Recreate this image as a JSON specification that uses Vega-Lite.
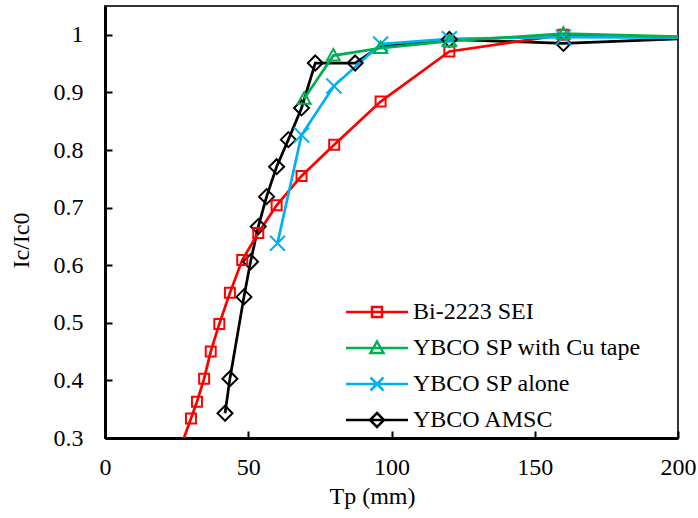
{
  "$schema": "https://vega.github.io/schema/vega-lite/v6.json",
  "width": 573,
  "height": 432,
  "autosize": {"type": "none"},
  "padding": {"left": 105, "top": 6, "right": 20, "bottom": 80},
  "background": "white",
  "config": {
    "font": "Liberation Serif",
    "view": {"stroke": "#333333", "strokeWidth": 2},
    "axis": {
      "grid": false,
      "labelFont": "Liberation Serif",
      "labelFontSize": 24,
      "labelColor": "black",
      "labelFlush": false,
      "labelOverlap": false,
      "titleFont": "Liberation Serif",
      "titleFontSize": 24,
      "titleFontWeight": "normal",
      "titleColor": "black",
      "domainColor": "black",
      "domainWidth": 3,
      "tickColor": "black",
      "tickWidth": 2,
      "tickSize": -7
    }
  },
  "data": {
    "values": [
      {"series": "YBCO AMSC", "Tp": 41.9, "ratio": 0.343, "marker": true},
      {"series": "YBCO AMSC", "Tp": 43.6, "ratio": 0.403, "marker": true},
      {"series": "YBCO AMSC", "Tp": 48.5, "ratio": 0.545, "marker": true},
      {"series": "YBCO AMSC", "Tp": 50.8, "ratio": 0.606, "marker": true},
      {"series": "YBCO AMSC", "Tp": 53.5, "ratio": 0.667, "marker": true},
      {"series": "YBCO AMSC", "Tp": 56.4, "ratio": 0.719, "marker": true},
      {"series": "YBCO AMSC", "Tp": 59.9, "ratio": 0.771, "marker": true},
      {"series": "YBCO AMSC", "Tp": 64.0, "ratio": 0.818, "marker": true},
      {"series": "YBCO AMSC", "Tp": 68.6, "ratio": 0.873, "marker": true},
      {"series": "YBCO AMSC", "Tp": 73.4, "ratio": 0.951, "marker": true},
      {"series": "YBCO AMSC", "Tp": 87.3, "ratio": 0.951, "marker": true},
      {"series": "YBCO AMSC", "Tp": 95.8, "ratio": 0.979, "marker": false},
      {"series": "YBCO AMSC", "Tp": 120.2, "ratio": 0.992, "marker": true},
      {"series": "YBCO AMSC", "Tp": 160, "ratio": 0.985, "marker": true},
      {"series": "YBCO AMSC", "Tp": 200, "ratio": 0.993, "marker": false},
      {"series": "Bi-2223 SEI", "Tp": 25.4, "ratio": 0.27, "marker": false},
      {"series": "Bi-2223 SEI", "Tp": 30.0, "ratio": 0.334, "marker": true},
      {"series": "Bi-2223 SEI", "Tp": 32.1, "ratio": 0.363, "marker": true},
      {"series": "Bi-2223 SEI", "Tp": 34.6, "ratio": 0.403, "marker": true},
      {"series": "Bi-2223 SEI", "Tp": 36.9, "ratio": 0.45, "marker": true},
      {"series": "Bi-2223 SEI", "Tp": 39.9, "ratio": 0.498, "marker": true},
      {"series": "Bi-2223 SEI", "Tp": 43.6, "ratio": 0.552, "marker": true},
      {"series": "Bi-2223 SEI", "Tp": 47.9, "ratio": 0.609, "marker": true},
      {"series": "Bi-2223 SEI", "Tp": 53.5, "ratio": 0.656, "marker": true},
      {"series": "Bi-2223 SEI", "Tp": 59.9, "ratio": 0.704, "marker": true},
      {"series": "Bi-2223 SEI", "Tp": 68.6, "ratio": 0.755, "marker": true},
      {"series": "Bi-2223 SEI", "Tp": 80.0, "ratio": 0.809, "marker": true},
      {"series": "Bi-2223 SEI", "Tp": 96.2, "ratio": 0.884, "marker": true},
      {"series": "Bi-2223 SEI", "Tp": 120.2, "ratio": 0.971, "marker": true},
      {"series": "Bi-2223 SEI", "Tp": 160, "ratio": 1.0, "marker": true},
      {"series": "Bi-2223 SEI", "Tp": 200, "ratio": 0.996, "marker": false},
      {"series": "YBCO SP alone", "Tp": 60.2, "ratio": 0.638, "marker": true},
      {"series": "YBCO SP alone", "Tp": 68.6, "ratio": 0.826, "marker": true},
      {"series": "YBCO SP alone", "Tp": 79.9, "ratio": 0.911, "marker": true},
      {"series": "YBCO SP alone", "Tp": 96.2, "ratio": 0.984, "marker": true},
      {"series": "YBCO SP alone", "Tp": 120.2, "ratio": 0.993, "marker": true},
      {"series": "YBCO SP alone", "Tp": 160, "ratio": 0.996, "marker": true},
      {"series": "YBCO SP alone", "Tp": 200, "ratio": 0.995, "marker": false},
      {"series": "YBCO SP with Cu tape", "Tp": 69.5, "ratio": 0.889, "marker": true},
      {"series": "YBCO SP with Cu tape", "Tp": 79.7, "ratio": 0.964, "marker": true},
      {"series": "YBCO SP with Cu tape", "Tp": 96.2, "ratio": 0.977, "marker": true},
      {"series": "YBCO SP with Cu tape", "Tp": 120.2, "ratio": 0.989, "marker": true},
      {"series": "YBCO SP with Cu tape", "Tp": 160, "ratio": 1.002, "marker": true},
      {"series": "YBCO SP with Cu tape", "Tp": 200, "ratio": 0.997, "marker": false}
    ]
  },
  "encoding": {
    "x": {
      "field": "Tp", "type": "quantitative",
      "scale": {"domain": [0, 200], "nice": false, "zero": false},
      "axis": {"values": [0, 50, 100, 150, 200], "title": "Tp (mm)", "labelPadding": 24, "titleX": 267, "titleY": 65, "titleBaseline": "alphabetic", "titleAnchor": null}
    },
    "y": {
      "field": "ratio", "type": "quantitative",
      "scale": {"domain": [0.3, 1.05], "nice": false, "zero": false},
      "axis": {"values": [0.3, 0.4, 0.5, 0.6, 0.7, 0.8, 0.9, 1.0], "format": "~g", "title": "Ic/Ic0", "labelPadding": 29, "titleX": -72, "titleY": 234}
    }
  },
  "resolve": {"scale": {"shape": "independent", "color": "independent"}, "legend": {"shape": "independent", "color": "independent"}},
  "layer": [
    {
      "mark": {"type": "line", "strokeWidth": 2.75, "clip": true},
      "encoding": {
        "order": {"field": "Tp", "type": "quantitative"},
        "color": {
          "field": "series", "type": "nominal",
          "scale": {
            "domain": ["Bi-2223 SEI", "YBCO SP with Cu tape", "YBCO SP alone", "YBCO AMSC"],
            "range": ["#FF0000", "#00B050", "#00B0F0", "#000000"]
          },
          "legend": null
        }
      }
    },
    {
      "transform": [{"filter": "datum.marker"}],
      "mark": {"type": "point", "filled": false, "size": 100, "strokeWidth": 2, "opacity": 1, "clip": true},
      "encoding": {
        "color": {
          "field": "series", "type": "nominal",
          "scale": {
            "domain": ["Bi-2223 SEI", "YBCO SP with Cu tape", "YBCO SP alone", "YBCO AMSC"],
            "range": ["#FF0000", "#00B050", "#00B0F0", "#000000"]
          },
          "legend": null
        },
        "shape": {
          "field": "series", "type": "nominal",
          "scale": {
            "domain": ["Bi-2223 SEI", "YBCO SP with Cu tape", "YBCO SP alone", "YBCO AMSC"],
            "range": ["M-1,-1H1V1H-1Z", "M0,-1.3L1.3,1H-1.3Z", "M-1.5,-1.5L1.5,1.5M-1.5,1.5L1.5,-1.5", "M0,-1.5L1.5,0L0,1.5L-1.5,0Z"]
          },
          "legend": null
        }
      }
    },
    {
      "transform": [{"filter": "datum.Tp < -1000"}],
      "mark": {"type": "point", "filled": false, "size": 100, "strokeWidth": 2.5, "opacity": 1},
      "encoding": {
        "color": {
          "field": "series", "type": "nominal",
          "scale": {
            "domain": ["Bi-2223 SEI", "YBCO SP with Cu tape", "YBCO SP alone", "YBCO AMSC"],
            "range": ["#FF0000", "#00B050", "#00B0F0", "#000000"]
          },
          "legend": {
            "orient": "none", "legendX": 260, "legendY": 294, "title": null, "padding": 0,
            "labelFont": "Liberation Serif", "labelFontSize": 24, "labelColor": "black", "labelLimit": 400,
            "symbolSize": 100, "symbolStrokeWidth": 2.5, "symbolOpacity": 1, "labelOffset": 24, "rowPadding": 12
          }
        },
        "shape": {
          "field": "series", "type": "nominal",
          "scale": {
            "domain": ["Bi-2223 SEI", "YBCO SP with Cu tape", "YBCO SP alone", "YBCO AMSC"],
            "range": ["M-6.2,0H6.2M-1,-1H1V1H-1Z", "M-6.2,0H6.2M0,-1.3L1.3,1H-1.3Z", "M-6.2,0H6.2M-1.3,-1.3L1.3,1.3M-1.3,1.3L1.3,-1.3", "M-6.2,0H6.2M0,-1.4L1.4,0L0,1.4L-1.4,0Z"]
          },
          "legend": {
            "orient": "none", "legendX": 260, "legendY": 294, "title": null, "padding": 0,
            "labelFont": "Liberation Serif", "labelFontSize": 24, "labelColor": "black", "labelLimit": 400,
            "symbolSize": 100, "symbolStrokeWidth": 2.5, "symbolOpacity": 1, "labelOffset": 24, "rowPadding": 12
          }
        }
      }
    }
  ]
}
